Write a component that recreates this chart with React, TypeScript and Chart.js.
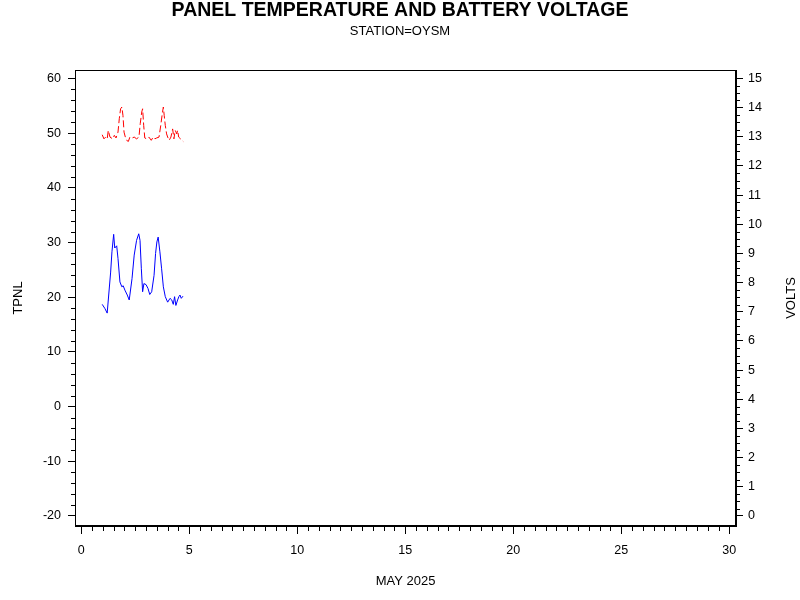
import { useEffect, useRef } from "react";
import { Chart, registerables } from "chart.js";

Chart.register(...registerables);

// Panel temperature (TPNL), day of May 2025
const tpnlDays = [0.97, 1.10, 1.20, 1.36, 1.42, 1.50, 1.55, 1.64, 1.70, 1.79, 1.88, 1.94, 2.02, 2.13, 2.22, 2.35, 2.45, 2.56, 2.66, 2.72, 2.78, 2.84, 2.90, 3.00, 3.09, 3.17, 3.26, 3.37, 3.44, 3.50, 3.56, 3.64, 3.72, 3.80, 3.89, 4.00, 4.11, 4.19, 4.26, 4.32, 4.38, 4.46, 4.52, 4.57, 4.63, 4.71];
const tpnlValues = [18.7, 17.9, 17.1, 24.6, 28.3, 31.5, 29.0, 29.4, 27.1, 22.8, 21.9, 22.1, 21.3, 20.4, 19.5, 23.4, 27.7, 30.4, 31.6, 30.4, 25.3, 21.0, 22.5, 22.3, 21.6, 20.5, 21.0, 24.0, 28.0, 30.1, 31.0, 28.3, 25.2, 21.9, 20.1, 19.1, 19.8, 19.5, 18.7, 20.1, 18.5, 19.5, 20.1, 20.4, 19.8, 20.2];

// Battery voltage (VOLTS), day of May 2025
const voltDays = [0.97, 1.05, 1.13, 1.20, 1.25, 1.33, 1.45, 1.53, 1.61, 1.70, 1.76, 1.82, 1.88, 1.93, 1.98, 2.04, 2.10, 2.18, 2.25, 2.36, 2.45, 2.56, 2.67, 2.73, 2.80, 2.84, 2.89, 2.94, 3.03, 3.13, 3.24, 3.33, 3.41, 3.49, 3.60, 3.68, 3.75, 3.80, 3.84, 3.89, 3.95, 4.00, 4.07, 4.15, 4.23, 4.29, 4.35, 4.42, 4.46, 4.51, 4.72];
const voltValues = [13.07, 12.93, 12.99, 12.93, 13.22, 12.99, 12.93, 13.05, 12.96, 13.16, 13.62, 13.96, 14.02, 13.73, 13.16, 12.99, 12.88, 12.84, 12.99, 12.96, 12.99, 12.93, 12.99, 13.45, 13.85, 13.96, 13.39, 12.96, 12.93, 12.99, 12.88, 12.99, 12.93, 12.96, 12.99, 13.39, 13.79, 14.02, 13.73, 13.39, 13.10, 12.99, 12.88, 12.99, 13.27, 12.93, 13.22, 13.10, 13.22, 12.99, 12.84];

const xMajorTicks = [0, 5, 10, 15, 20, 25, 30];
const leftMajorTicks = [-20, -10, 0, 10, 20, 30, 40, 50, 60];
const rightMajorTicks = [0, 1, 2, 3, 4, 5, 6, 7, 8, 9, 10, 11, 12, 13, 14, 15];

const titleText = "PANEL TEMPERATURE AND BATTERY VOLTAGE";
const subtitleText = "STATION=OYSM";
const xTitle = "MAY 2025";
const leftTitle = "TPNL";
const rightTitle = "VOLTS";

const FONT = "'Liberation Sans', Arial, sans-serif";

export default function App() {
  const ref = useRef<HTMLCanvasElement>(null);

  useEffect(() => {
    const canvas = ref.current!;
    const deco = {
      id: "deco",
      beforeDraw(chart: any) {
        const c = chart.ctx;
        c.save();
        c.fillStyle = "#fff";
        c.fillRect(0, 0, chart.width, chart.height);
        c.restore();
      },
      afterDraw(chart: any) {
        const c = chart.ctx;
        const a = chart.chartArea;
        const sx = chart.scales.x;
        const sy = chart.scales.y;
        const sy1 = chart.scales.y1;
        c.save();
        c.strokeStyle = "#000";
        c.lineWidth = 1;
        // frame
        c.strokeRect(Math.round(a.left) + 0.5, Math.round(a.top) + 0.5, Math.round(a.right - a.left) - 1, Math.round(a.bottom - a.top) - 1);
        c.beginPath();
        // x minor ticks
        for (let v = 0; v <= 30.001; v += 0.5) {
          if (Math.abs(v % 5) < 1e-6) continue;
          const px = Math.round(sx.getPixelForValue(v)) + 0.5;
          c.moveTo(px, a.bottom);
          c.lineTo(px, a.bottom + 5);
        }
        // left minor ticks
        for (let v = -20; v <= 60.001; v += 2) {
          if (Math.abs(v % 10) < 1e-6) continue;
          const py = Math.round(sy.getPixelForValue(v)) + 0.5;
          c.moveTo(a.left, py);
          c.lineTo(a.left - 4, py);
        }
        // right minor ticks
        for (let v = 0; v <= 15.001; v += 0.25) {
          if (Math.abs(v - Math.round(v)) < 1e-6) continue;
          const py = Math.round(sy1.getPixelForValue(v)) + 0.5;
          c.moveTo(a.right, py);
          c.lineTo(a.right + 4, py);
        }
        c.stroke();

        c.fillStyle = "#000";
        c.textAlign = "center";
        c.textBaseline = "middle";
        c.font = `bold 19.5px ${FONT}`;
        c.fillText(titleText, 400, 11);
        c.font = `13px ${FONT}`;
        c.fillText(subtitleText, 400, 31);
        c.fillText(xTitle, (a.left + a.right) / 2, 581);
        c.save();
        c.translate(18, (a.top + a.bottom) / 2);
        c.rotate(-Math.PI / 2);
        c.fillText(leftTitle, 0, 0);
        c.restore();
        c.save();
        c.translate(791, (a.top + a.bottom) / 2);
        c.rotate(-Math.PI / 2);
        c.fillText(rightTitle, 0, 0);
        c.restore();
        c.restore();
      },
    };

    const tickFont = { family: FONT, size: 12.5 };

    const chart = new Chart(canvas, {
      type: "line",
      data: {
        datasets: [
          {
            label: leftTitle,
            data: tpnlDays.map((d, i) => ({ x: d, y: tpnlValues[i] })),
            yAxisID: "y",
            borderColor: "#0000ff",
            borderWidth: 1,
            pointRadius: 0,
            tension: 0,
            fill: false,
          },
          {
            label: rightTitle,
            data: voltDays.map((d, i) => ({ x: d, y: voltValues[i] })),
            yAxisID: "y1",
            borderColor: "#ff0000",
            borderWidth: 1,
            borderDash: [7, 3],
            pointRadius: 0,
            tension: 0,
            fill: false,
          },
        ],
      },
      options: {
        responsive: false,
        animation: false,
        layout: { padding: { top: 70, left: 0, right: 0, bottom: 0 } },
        plugins: {
          legend: { display: false },
          title: { display: false },
          tooltip: { enabled: false },
        },
        scales: {
          x: {
            type: "linear",
            min: -0.29,
            max: 30.31,
            afterBuildTicks: (s: any) => {
              s.ticks = xMajorTicks.map((v) => ({ value: v }));
            },
            afterFit: (s: any) => {
              s.height = 74;
            },
            grid: { drawOnChartArea: false, drawTicks: true, tickLength: 8, tickColor: "#000" },
            border: { display: true, color: "#000", width: 1 },
            ticks: { color: "#000", font: tickFont, padding: 9, maxRotation: 0, autoSkip: false },
          },
          y: {
            type: "linear",
            position: "left",
            min: -21.83,
            max: 61.55,
            afterBuildTicks: (s: any) => {
              s.ticks = leftMajorTicks.map((v) => ({ value: v }));
            },
            afterFit: (s: any) => {
              s.width = 75;
            },
            grid: { drawOnChartArea: false, drawTicks: true, tickLength: 7, tickColor: "#000" },
            border: { display: true, color: "#000", width: 1 },
            ticks: { color: "#000", font: tickFont, padding: 7, autoSkip: false },
          },
          y1: {
            type: "linear",
            position: "right",
            min: -0.343,
            max: 15.29,
            afterBuildTicks: (s: any) => {
              s.ticks = rightMajorTicks.map((v) => ({ value: v }));
            },
            afterFit: (s: any) => {
              s.width = 64;
            },
            grid: { drawOnChartArea: false, drawTicks: true, tickLength: 7, tickColor: "#000" },
            border: { display: true, color: "#000", width: 1 },
            ticks: { color: "#000", font: tickFont, padding: 5, autoSkip: false },
          },
        },
      } as any,
      plugins: [deco],
    });
    return () => chart.destroy();
  }, []);

  return (
    <div style={{ position: "fixed", left: 0, top: 0, width: 800, height: 600 }}>
      <canvas ref={ref} width={800} height={600} style={{ display: "block" }} />
    </div>
  );
}
